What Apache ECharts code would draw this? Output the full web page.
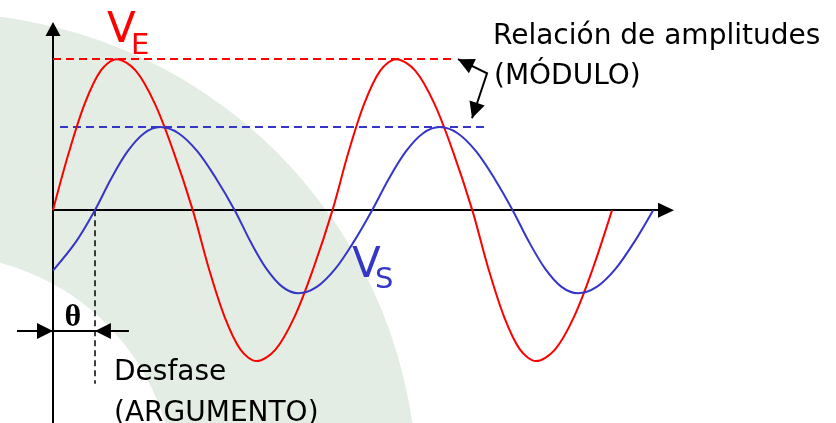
<!DOCTYPE html>
<html><head><meta charset="utf-8">
<script src="https://cdn.jsdelivr.net/npm/echarts@6/dist/echarts.min.js"></script>
<style>html,body{margin:0;padding:0;background:#fff}#c{width:836px;height:423px}</style>
</head><body><div id="c"></div>
<script>
// phase angle in degrees (x), amplitude in relative units (y)
const veX = [0,20.5,41,61.5,82,106.5,131,155.5,180,200.5,221,241.5,262,286.5,311,335.5,360,380.5,401,421.5,442,466.5,491,515.5,540,560.5,581,601.5,622,646.5,671,695.5,720];
const veY = [0,0.383,0.707,0.924,1,0.924,0.707,0.383,0,-0.383,-0.707,-0.924,-1,-0.924,-0.707,-0.383,0,0.383,0.707,0.924,1,0.924,0.707,0.383,0,-0.383,-0.707,-0.924,-1,-0.924,-0.707,-0.383,0];
const vsX = [0,29.5,54,75,96,117,138,162,186,210,234,254.5,275,295.5,316,339.75,363.5,387.25,411,432.75,454.5,476.25,498,521.5,545,568.5,592,613,634,655,676,700.25,724.5,748.75,773];
const vsY = [-0.40,-0.21,0,0.21,0.389,0.508,0.55,0.508,0.389,0.21,0,-0.21,-0.389,-0.508,-0.55,-0.508,-0.389,-0.21,0,0.21,0.389,0.508,0.55,0.508,0.389,0.21,0,-0.21,-0.389,-0.508,-0.55,-0.508,-0.389,-0.21,0];
const phaseDeg = 54;          // desfase θ
const veDashEnd = 515;        // extent of V_E amplitude guide
const vsDashRange = [9, 559]; // extent of V_S amplitude guide
const phaseLineBottom = -1.15;
const dimY = -0.80;           // θ dimension line level
const arrowPts = [[521.6, 1.0], [559, 0.907], [539.7, 0.609]]; // módulo arrow (tip, knee, tip)

const RED = '#ff0000', BLUE = '#3535c8';
const FONT = '"DejaVu Sans", Verdana, sans-serif';
const peakE = Math.max(...veY), peakS = Math.max(...vsY);

const chart = echarts.init(document.getElementById('c'), null, {renderer: 'canvas'});
const option = {
  animation: false,
  backgroundColor: '#ffffff',
  grid: {left: 53, right: 170, top: 29, bottom: 0, containLabel: false},
  xAxis: {
    type: 'value', min: 0, max: 789.5,
    axisLine: {show: true, onZero: true, symbol: ['none', 'triangle'], symbolSize: [15, 16],
      lineStyle: {color: '#000', width: 2}},
    axisTick: {show: false}, axisLabel: {show: false}, splitLine: {show: false}
  },
  yAxis: {
    type: 'value', min: -1.41, max: 1.2,
    axisLine: {show: true, onZero: true, symbol: ['none', 'triangle'], symbolSize: [15, 14],
      lineStyle: {color: '#000', width: 2}},
    axisTick: {show: false}, axisLabel: {show: false}, splitLine: {show: false}
  },
  series: [
    {
      name: 'VE', type: 'line', z: 10, smooth: 0.33, showSymbol: false, silent: true,
      data: veX.map((x, i) => [x, veY[i]]),
      lineStyle: {color: RED, width: 2},
      markLine: {
        silent: true, symbol: ['none', 'none'], label: {show: false},
        lineStyle: {color: RED, width: 2, type: [8, 5]},
        data: [[{coord: [0, peakE]}, {coord: [veDashEnd, peakE]}]]
      }
    },
    {
      name: 'VS', type: 'line', z: 10, smooth: 0.33, showSymbol: false, silent: true,
      data: vsX.map((x, i) => [x, vsY[i]]),
      lineStyle: {color: BLUE, width: 2},
      markLine: {
        silent: true, symbol: ['none', 'none'], label: {show: false},
        data: [
          [{coord: [vsDashRange[0], peakS], lineStyle: {color: BLUE, width: 2, type: [8, 5]}},
           {coord: [vsDashRange[1], peakS]}],
          [{coord: [phaseDeg, 0], lineStyle: {color: '#000', width: 1.5, type: [6, 4]}},
           {coord: [phaseDeg, phaseLineBottom]}]
        ]
      }
    }
  ]
};
chart.setOption(option);

const P = (x, y) => chart.convertToPixel({gridIndex: 0}, [x, y]);
function tri(tip, dir, len, half, color) {
  const l = Math.hypot(dir[0], dir[1]);
  const d = [dir[0] / l, dir[1] / l];
  const bx = tip[0] - d[0] * len, by = tip[1] - d[1] * len;
  const nx = -d[1], ny = d[0];
  return {type: 'polygon', silent: true, z: 100,
    shape: {points: [tip, [bx + nx * half, by + ny * half], [bx - nx * half, by - ny * half]]},
    style: {fill: color}};
}
function txt(text, x, y, size, color, family, align, weight) {
  const a = align || 'left';
  return {type: 'text', x: x, y: y, silent: true, z: 100,
    style: {text: text, font: (weight || 'normal') + ' ' + size + 'px ' + (family || FONT), fill: color,
      align: a, verticalAlign: 'middle', textAlign: a, textVerticalAlign: 'middle'}};
}

const o = P(0, dimY), ph = P(phaseDeg, dimY);
const a0 = P(arrowPts[0][0], arrowPts[0][1]);
const a1 = P(arrowPts[1][0], arrowPts[1][1]);
const a2 = P(arrowPts[2][0], arrowPts[2][1]);

const elements = [
  {type: 'ring', silent: true, z: -10, shape: {cx: -60, cy: 490, r: 477, r0: 235}, style: {fill: '#e3ede3'}},
  // θ dimension
  {type: 'line', silent: true, z: 100, shape: {x1: o[0] - 36, y1: o[1], x2: ph[0] + 34, y2: ph[1]},
    style: {stroke: '#000', lineWidth: 2}},
  tri(o, [1, 0], 16, 8, '#000'),
  tri(ph, [-1, 0], 16, 8, '#000'),
  txt('θ', (o[0] + ph[0]) / 2 - 1, o[1] - 13, 32, '#000', '"Liberation Serif", serif', 'center', 'bold'),
  // módulo arrow
  {type: 'polyline', silent: true, z: 100, shape: {points: [a0, a1, a2]},
    style: {stroke: '#000', lineWidth: 2, fill: null}},
  tri(a0, [a0[0] - a1[0], a0[1] - a1[1]], 16, 8, '#000'),
  tri(a2, [a2[0] - a1[0], a2[1] - a1[1]], 16, 8, '#000'),
  // labels
  txt('V', 107, 31.5, 42, RED),
  txt('E', 131, 46, 29, RED),
  txt('V', 352, 266.5, 42, BLUE),
  txt('S', 375, 280.5, 29, BLUE),
  txt('Relación de amplitudes', 493, 36.5, 28, '#000'),
  txt('(MÓDULO)', 494, 76.5, 28, '#000'),
  txt('Desfase', 114, 373, 28, '#000'),
  txt('(ARGUMENTO)', 114, 414, 28, '#000')
];
chart.setOption({graphic: {elements: elements}});
</script>
</body></html>
